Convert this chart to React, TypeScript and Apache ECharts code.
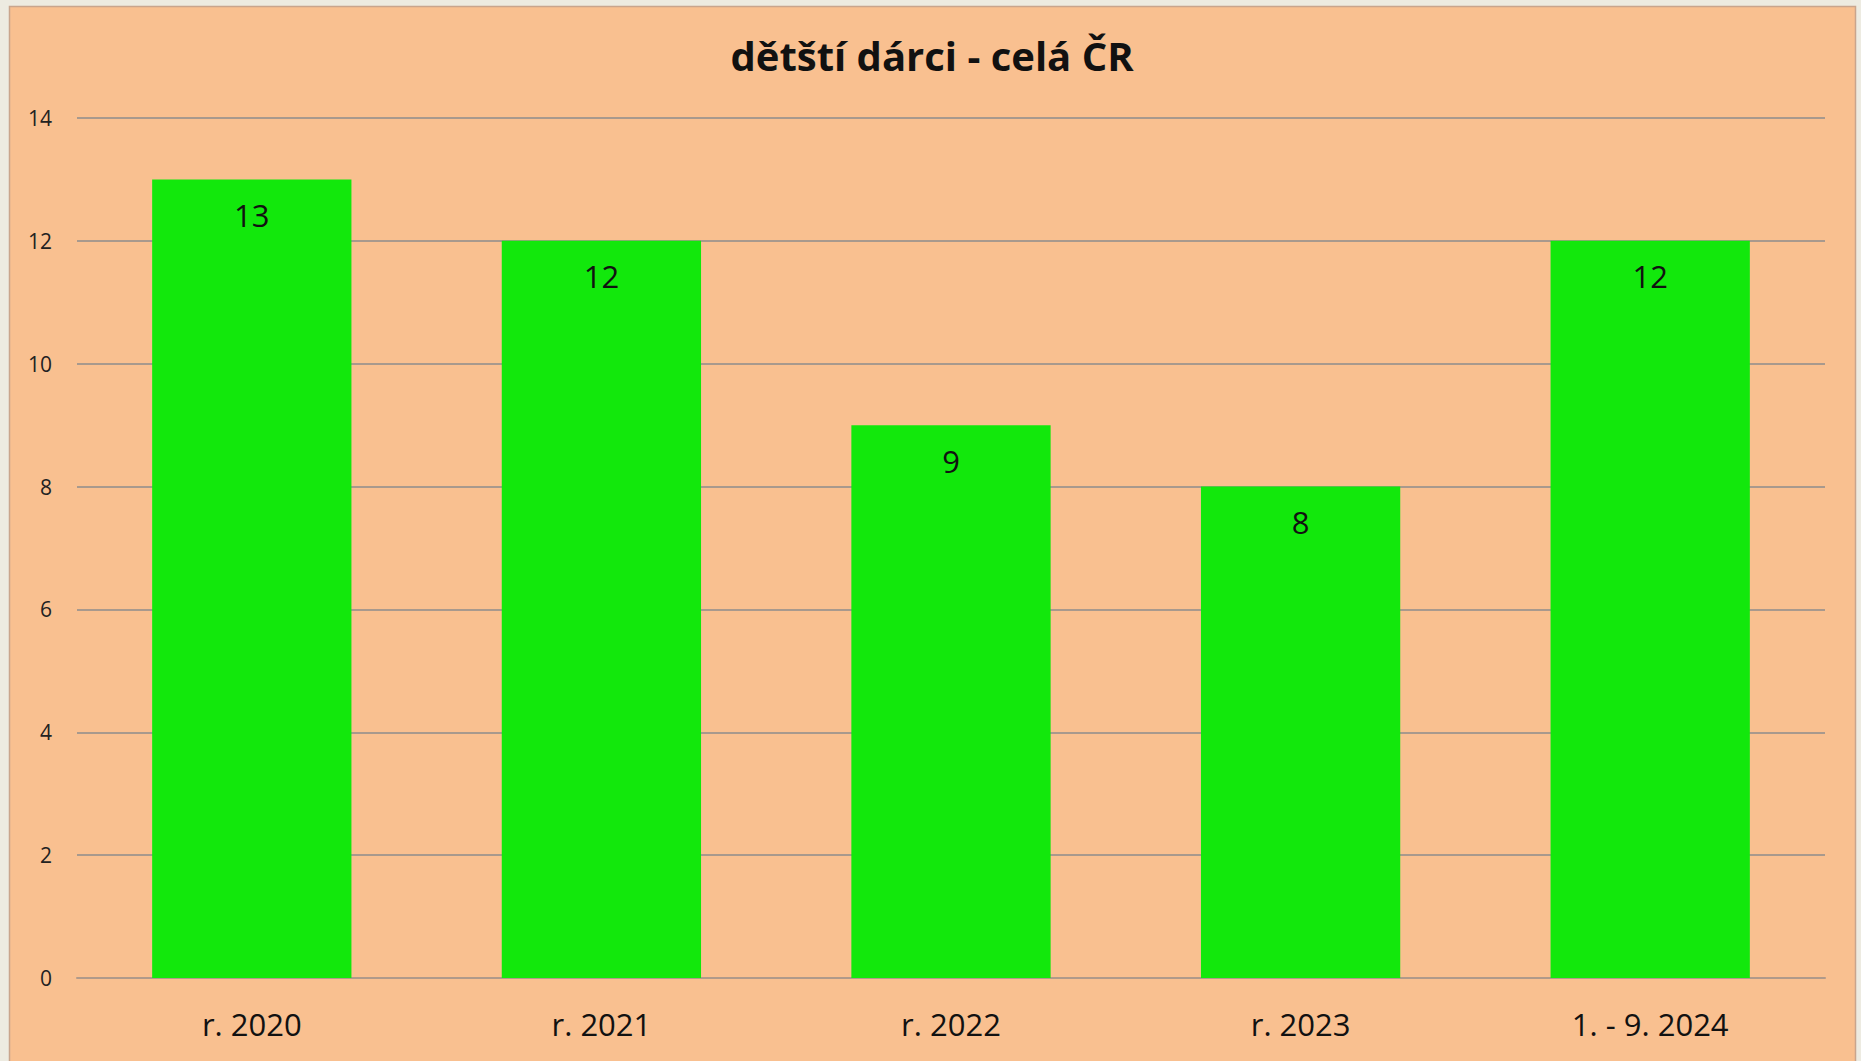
import React, { useEffect, useRef } from "react";
import * as echarts from "echarts";

const categories = ["r. 2020", "r. 2021", "r. 2022", "r. 2023", "1. - 9. 2024"];
const values = [13, 12, 9, 8, 12];
const titleText = "dětští dárci - celá ČR";
const FONT = "'Open Sans', 'Noto Sans', sans-serif";

export default function App() {
  const ref = useRef<HTMLDivElement>(null);
  useEffect(() => {
    if (!ref.current) return;
    const chart = echarts.init(ref.current, undefined, { renderer: "svg" });
    chart.setOption({
      animation: false,
      backgroundColor: "#EDEBE1",
      graphic: [
        {
          type: "rect",
          z: -10,
          silent: true,
          shape: { x: 9.5, y: 6.5, width: 1846, height: 1070 },
          style: { fill: "#F9C090", stroke: "#C9A58D", lineWidth: 1.5 },
        },
      ],
      title: {
        text: titleText,
        left: 927,
        textAlign: "center",
        top: 30,
        textStyle: { fontFamily: FONT, fontWeight: "bold", fontSize: 40, color: "#111" },
      },
      grid: { left: 77, right: 36, top: 118, bottom: 83 },
      xAxis: {
        type: "category",
        data: categories,
        axisTick: { show: false },
        axisLine: { lineStyle: { color: "#B09A8A", width: 2 } },
        axisLabel: { fontFamily: FONT, fontSize: 31, color: "#111", margin: 30 },
      },
      yAxis: {
        type: "value",
        min: 0,
        max: 14,
        interval: 2,
        axisLine: { show: false },
        axisTick: { show: false },
        splitLine: { lineStyle: { color: "#8C8C8C", width: 1.5 } },
        axisLabel: { fontFamily: FONT, fontSize: 21, color: "#222", margin: 25 },
      },
      series: [
        {
          type: "bar",
          data: values,
          barWidth: "57%",
          itemStyle: { color: "#12E80C" },
          label: {
            show: true,
            position: "insideTop",
            distance: 20,
            fontFamily: FONT,
            fontSize: 31,
            color: "#111",
          },
        },
      ],
    });
    return () => chart.dispose();
  }, []);
  return (
    <div
      ref={ref}
      style={{ position: "fixed", left: 0, top: 0, width: 1861, height: 1061 }}
    />
  );
}
